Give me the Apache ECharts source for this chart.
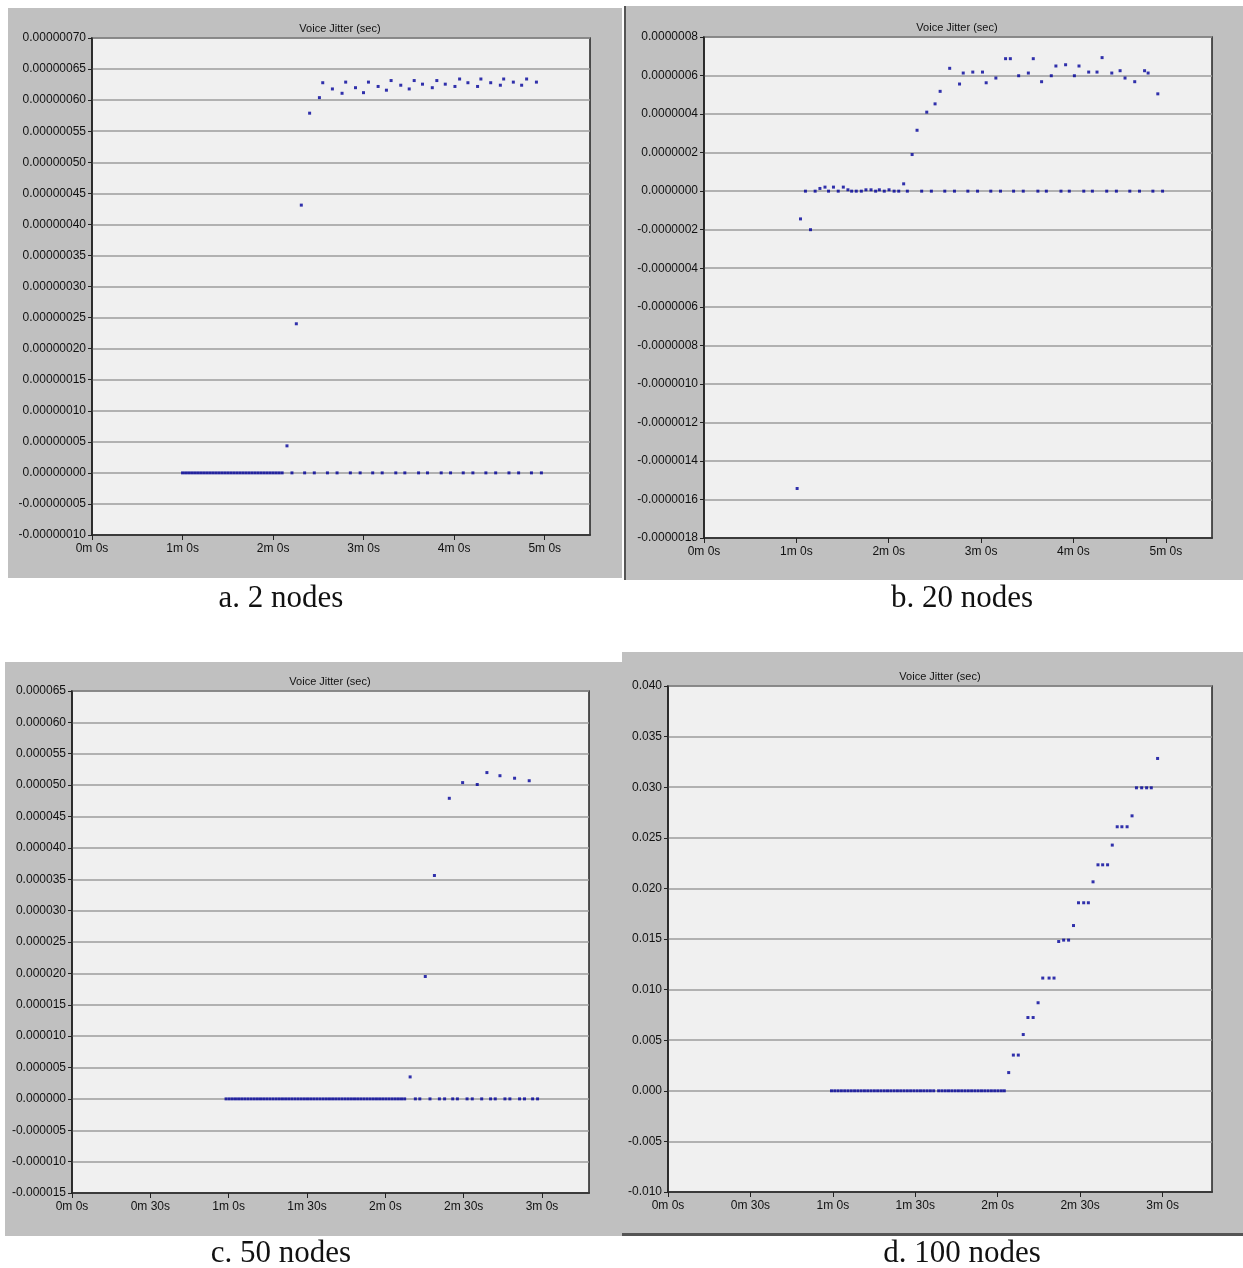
<!DOCTYPE html>
<html>
<head>
<meta charset="utf-8">
<script src="https://cdn.jsdelivr.net/npm/echarts@6/dist/echarts.min.js"></script>
<style>
  html, body { margin: 0; padding: 0; background: #fff; }
  #chart { width: 1243px; height: 1268px; }
</style>
</head>
<body>
<div id="chart"></div>
<script>
// a. 2 nodes
var aZeroTime = [60, 62, 64, 66, 68, 70, 72, 74, 76, 78, 80, 82, 84, 86, 88, 90, 92, 94, 96, 98, 100, 102, 104, 106, 108, 110, 112, 114, 116, 118, 120, 122, 124, 126,
  132.5, 140.9, 147.3, 156, 162.4, 171.2, 177.7, 186, 192.3, 201.3, 207.3, 216.4, 222.3, 231.4, 237.6, 246, 252.4, 261, 267.5, 276.3, 282.7, 291.2, 297.8];
var aRiseTime = [129.2, 135.4, 138.7, 144.2, 150.7, 152.9, 159.3, 165.7, 168.1, 174.6, 179.9, 183.2, 189.6, 195.1, 198.2, 204.6, 210.2, 213.5, 219, 225.5,
  228.5, 234.1, 240.5, 243.6, 249.1, 255.5, 257.7, 264.2, 270.6, 272.8, 279.2, 284.7, 288, 294.5];
var aRiseJitter = [4.35e-8, 2.4e-7, 4.31e-7, 5.79e-7, 6.04e-7, 6.28e-7, 6.18e-7, 6.11e-7, 6.29e-7, 6.20e-7, 6.12e-7, 6.29e-7, 6.22e-7, 6.16e-7, 6.315e-7,
  6.24e-7, 6.18e-7, 6.315e-7, 6.257e-7, 6.20e-7, 6.315e-7, 6.257e-7, 6.22e-7, 6.34e-7, 6.28e-7, 6.22e-7, 6.34e-7, 6.28e-7, 6.24e-7, 6.34e-7, 6.29e-7, 6.24e-7, 6.34e-7, 6.29e-7];

// b. 20 nodes
var bLowTime = [60.5, 62.7, 69.2, 65.9, 72.2, 75.3, 78.6, 80.9, 84.1, 87.2, 90.5, 93.5, 95.9, 98.9, 102.2, 105.2, 108.5, 111.5, 113.9, 117.1, 120.2, 123.5, 126.5, 129.7, 132.1,
  141.4, 147.7, 156.4, 162.7, 171.4, 177.7, 186.3, 192.6, 201.1, 207.4, 216.9, 222.4, 231.9, 237.3, 246.7, 252.3, 261.6, 267.9, 276.6, 282.9, 291.6, 297.9];
var bLowJitter = [-1.543e-6, -1.44e-7, -2.0e-7, 0, 0, 1.4e-8, 2.1e-8, 0, 2.1e-8, 0, 2.1e-8, 7e-9, 0, 0, 0, 7e-9, 7e-9, 0, 7e-9, 0, 7e-9, 0, 0, 3.8e-8, 0,
  0, 0, 0, 0, 0, 0, 0, 0, 0, 0, 0, 0, 0, 0, 0, 0, 0, 0, 0, 0, 0, 0];
var bHighTime = [135.2, 138.4, 144.7, 150.1, 153.4, 159.6, 166, 168.4, 174.6, 180.9, 183.3, 189.6, 195.9, 199, 204.4, 210.7, 213.9, 219.3, 225.6, 228.6,
  234.9, 240.6, 243.6, 249.9, 255.3, 258.6, 264.9, 270.3, 273.5, 279.8, 286.2, 288.5, 294.8];
var bHighJitter = [1.9e-7, 3.16e-7, 4.1e-7, 4.53e-7, 5.18e-7, 6.375e-7, 5.56e-7, 6.13e-7, 6.18e-7, 6.18e-7, 5.625e-7, 5.87e-7, 6.875e-7, 6.875e-7, 5.99e-7,
  6.13e-7, 6.875e-7, 5.68e-7, 5.99e-7, 6.495e-7, 6.56e-7, 5.99e-7, 6.495e-7, 6.18e-7, 6.18e-7, 6.93e-7, 6.13e-7, 6.25e-7, 5.87e-7, 5.68e-7, 6.25e-7, 6.13e-7, 5.05e-7];

// c. 50 nodes
var cZeroTime = [59, 60.2, 61.4, 62.6, 63.8, 65, 66.2, 67.4, 68.6, 69.8, 71, 72.2, 73.4, 74.6, 75.8, 77, 78.2, 79.4, 80.6, 81.8, 83, 84.2, 85.4, 86.6, 87.8,
  89, 90.2, 91.4, 92.6, 93.8, 95, 96.2, 97.4, 98.6, 99.8, 101, 102.2, 103.4, 104.6, 105.8, 107, 108.2, 109.4, 110.6, 111.8, 113, 114.2, 115.4, 116.6,
  117.8, 119, 120.2, 121.4, 122.6, 123.8, 125, 126.2, 127.4,
  131.5, 133.2, 137.1, 140.7, 142.7, 145.8, 147.6, 151.3, 153.3, 156.9, 160.3, 162.1, 165.8, 167.7, 171.4, 173.3, 176.4, 178.3];
var cRiseTime = [129.5, 135.3, 138.8, 144.5, 149.6, 155.2, 158.9, 163.9, 169.5, 175.1];
var cRiseJitter = [3.5e-6, 1.95e-5, 3.56e-5, 4.79e-5, 5.04e-5, 5.01e-5, 5.20e-5, 5.15e-5, 5.11e-5, 5.07e-5];

// d. 100 nodes
var dZeroTime = [59.5, 60.7, 61.9, 63.1, 64.3, 65.5, 66.7, 67.9, 69.1, 70.3, 71.5, 72.7, 73.9, 75.1, 76.3, 77.5, 78.7, 79.9, 81.1, 82.3, 83.5, 84.7, 85.9,
  87.1, 88.3, 89.5, 90.7, 91.9, 93.1, 94.3, 95.5, 96.7, 98.5, 99.7, 100.9, 102.1, 103.3, 104.5, 105.7, 106.9, 108.1, 109.3, 110.5, 111.7, 112.9, 114.1,
  115.3, 116.5, 117.7, 118.9, 120.1, 121.3, 122.4];
var dRiseTime = [124, 125.7, 127.5, 129.3, 131, 132.9, 134.7, 136.4, 138.7, 140.5, 142.2, 144, 145.8, 147.6, 149.4, 151.3, 153, 154.7, 156.5, 158.2, 160,
  161.7, 163.5, 165.2, 167.1, 168.9, 170.5, 172.4, 174.2, 175.9, 178.2];
var dRiseJitter = [0.0018, 0.00353, 0.00353, 0.00556, 0.00724, 0.00724, 0.0087, 0.01114, 0.01114, 0.01114, 0.01475, 0.01489, 0.01489, 0.01633, 0.01858,
  0.01858, 0.01858, 0.02065, 0.02233, 0.02233, 0.02233, 0.02428, 0.02609, 0.02609, 0.02609, 0.02717, 0.02994, 0.02994, 0.02994, 0.02994, 0.03284];

// axis ticks
var longTicks = [0, 60, 120, 180, 240, 300];
var shortTicks = [0, 30, 60, 90, 120, 150, 180];
var captions = ['a. 2 nodes', 'b. 20 nodes', 'c. 50 nodes', 'd. 100 nodes'];
var chartTitle = 'Voice Jitter (sec)';

var dotColor = '#00009a';
var chart = echarts.init(document.getElementById('chart'));

function pairs(xs, ys) {
  return xs.map(function (x, i) { return [x, ys[i]]; });
}
function zeros(xs) {
  return xs.map(function (x) { return [x, 0]; });
}
function timeLabel(v) {
  return Math.floor(v / 60) + 'm ' + (v % 60) + 's';
}
function yFmt(digits) {
  return function (v) {
    if (Math.abs(v) < 1e-15) v = 0;
    return v.toFixed(digits);
  };
}

var grids = [
  { left: 92, top: 38, width: 498, height: 497 },
  { left: 704, top: 37, width: 508, height: 501 },
  { left: 72, top: 691, width: 517, height: 502 },
  { left: 668, top: 686, width: 544, height: 506 }
];
var xSpec = [
  { max: 330, ticks: longTicks },
  { max: 330, ticks: longTicks },
  { max: 198, ticks: shortTicks },
  { max: 198, ticks: shortTicks }
];
var ySpec = [
  { min: -1e-7, max: 7e-7, interval: 5e-8, digits: 8 },
  { min: -1.8e-6, max: 8e-7, interval: 2e-7, digits: 7 },
  { min: -1.5e-5, max: 6.5e-5, interval: 5e-6, digits: 6 },
  { min: -0.01, max: 0.04, interval: 0.005, digits: 3 }
];

var axisFont = { fontFamily: 'Liberation Sans', fontSize: 12, color: '#111' };

function label(x, y, text, font) {
  return { type: 'text', x: x, y: y, style: { text: text, align: 'center', verticalAlign: 'middle', font: font, fill: '#111' } };
}

var option = {
  backgroundColor: '#ffffff',
  animation: false,
  grid: grids.map(function (g) {
    return Object.assign({
      show: true, backgroundColor: '#f0f0f0', borderColor: '#222', borderWidth: 1.5
    }, g);
  }),
  xAxis: xSpec.map(function (s, i) {
    return {
      type: 'value', gridIndex: i, min: 0, max: s.max,
      splitLine: { show: false },
      axisLine: { onZero: false, lineStyle: { color: '#222', width: 1.5 } },
      axisTick: { customValues: s.ticks, length: 5, lineStyle: { color: '#222' } },
      axisLabel: Object.assign({ customValues: s.ticks, margin: 8, formatter: timeLabel }, axisFont)
    };
  }),
  yAxis: ySpec.map(function (s, i) {
    return {
      type: 'value', gridIndex: i, min: s.min, max: s.max, interval: s.interval,
      splitLine: { show: true, lineStyle: { color: '#9c9c9c', width: 1.5 } },
      axisLine: { onZero: false, lineStyle: { color: '#222', width: 1.5 } },
      axisTick: { show: true, length: 4, lineStyle: { color: '#222' } },
      axisLabel: Object.assign({ margin: 6, formatter: yFmt(s.digits) }, axisFont)
    };
  }),
  graphic: [
    { type: 'rect', z: -10, shape: { x: 8, y: 8, width: 614, height: 570 }, style: { fill: '#c0c0c0' } },
    { type: 'rect', z: -10, shape: { x: 625, y: 6, width: 618, height: 574 }, style: { fill: '#c0c0c0' } },
    { type: 'rect', z: -9, shape: { x: 624, y: 6, width: 2, height: 574 }, style: { fill: '#555' } },
    { type: 'rect', z: -10, shape: { x: 5, y: 662, width: 617, height: 574 }, style: { fill: '#c0c0c0' } },
    { type: 'rect', z: -10, shape: { x: 622, y: 652, width: 621, height: 584 }, style: { fill: '#c0c0c0' } },
    { type: 'rect', z: -9, shape: { x: 622, y: 1233, width: 621, height: 3 }, style: { fill: '#555' } },
    label(340, 29, chartTitle, '11px "Liberation Sans"'),
    label(957, 28, chartTitle, '11px "Liberation Sans"'),
    label(330, 682, chartTitle, '11px "Liberation Sans"'),
    label(940, 677, chartTitle, '11px "Liberation Sans"'),
    label(281, 599, captions[0], '31px "Liberation Serif"'),
    label(962, 599, captions[1], '31px "Liberation Serif"'),
    label(281, 1254, captions[2], '31px "Liberation Serif"'),
    label(962, 1254, captions[3], '31px "Liberation Serif"')
  ],
  series: [
    { data: zeros(aZeroTime), xAxisIndex: 0, yAxisIndex: 0 },
    { data: pairs(aRiseTime, aRiseJitter), xAxisIndex: 0, yAxisIndex: 0 },
    { data: pairs(bLowTime, bLowJitter), xAxisIndex: 1, yAxisIndex: 1 },
    { data: pairs(bHighTime, bHighJitter), xAxisIndex: 1, yAxisIndex: 1 },
    { data: zeros(cZeroTime), xAxisIndex: 2, yAxisIndex: 2 },
    { data: pairs(cRiseTime, cRiseJitter), xAxisIndex: 2, yAxisIndex: 2 },
    { data: zeros(dZeroTime), xAxisIndex: 3, yAxisIndex: 3 },
    { data: pairs(dRiseTime, dRiseJitter), xAxisIndex: 3, yAxisIndex: 3 }
  ].map(function (s) {
    return Object.assign({
      type: 'scatter', symbol: 'rect', symbolSize: 3,
      itemStyle: { color: dotColor }, silent: true
    }, s);
  })
};

chart.setOption(option);
</script>
</body>
</html>
